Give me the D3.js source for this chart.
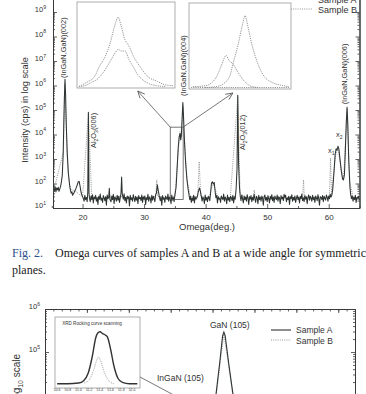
<!DOCTYPE html>
<html><head><meta charset="utf-8">
<script src="https://cdn.jsdelivr.net/npm/d3@7"></script>
<style>
html,body{margin:0;padding:0;background:#fff;}
svg{display:block;}
text{font-family:"Liberation Sans",Arial,sans-serif;fill:#333;}
</style></head><body>
<svg id="c" width="366" height="394"></svg>
<script>
// ================= DATA =================
// Top chart: omega (deg) vs intensity (cps), wide-angle symmetric scan
const sampleA = [
 [15.3,62],[15.425,50],[15.55,74],[15.675,45],[15.8,66],[15.925,55],[16.05,70],[16.175,48],[16.3,60],[16.425,75],
 [16.55,110],[16.7,210],[16.85,1500],[16.95,25000],[17.05,300000],[17.15,1800000],[17.25,400000],[17.35,30000],[17.5,2000],[17.7,260],
 [17.9,85],[18.025,55],[18.15,40],[18.275,46],[18.4,33],[18.525,38],[18.65,44],[18.775,52],[18.9,60],[19.1,82],
 [19.3,118],[19.45,122],[19.6,76],[19.75,45],[19.875,34],[20.0,30],[20.125,24],[20.25,19],[20.375,33],[20.5,22],
 [20.625,27],[20.75,18],[20.85,45],[20.95,80000],[21.05,40],
 [21.125,26],[21.25,18],[21.375,31],[21.5,22],[21.625,35],[21.75,16],[21.875,28],[22.0,24],[22.125,33],[22.25,19],
 [22.375,27],[22.5,14],[22.625,30],[22.75,23],[22.875,37],[23.0,21],[23.125,25],[23.25,17],[23.375,32],[23.5,26],
 [23.625,20],[23.75,29],[23.875,13],[24.0,34],[24.125,24],[24.25,27],[24.35,64],[24.45,22],
 [24.625,18],[24.75,31],[24.875,22],[25.0,36],[25.125,15],[25.25,28],[25.375,25],[25.5,19],[25.625,33],[25.75,21],
 [25.875,30],[26.0,17],[26.125,26],[26.25,40],[26.35,185],[26.45,38],
 [26.625,23],[26.75,38],[26.875,20],[27.0,27],[27.125,16],[27.25,31],[27.375,24],[27.5,29],[27.625,12],[27.75,33],
 [27.875,22],[28.0,26],[28.125,19],[28.25,35],[28.375,25],[28.5,18],[28.625,30],[28.75,21],[28.875,28],[29.0,15],
 [29.125,32],[29.25,24],[29.375,27],[29.5,20],[29.625,34],[29.75,17],[29.875,29],[30.0,23],[30.125,31],[30.25,14],
 [30.375,26],[30.5,22],[30.625,36],[30.75,19],[30.875,28],[31.0,25],[31.125,16],[31.25,33],[31.375,21],[31.5,30],
 [31.625,24],[31.75,18],[31.875,35],[32.0,40],[32.15,88],[32.3,52],
 [32.5,27],[32.625,20],[32.75,29],[32.875,13],[33.0,32],[33.125,23],[33.25,26],[33.375,17],[33.5,31],[33.625,25],
 [33.75,22],[33.875,37],[34.0,19],[34.125,28],[34.25,24],[34.375,15],[34.5,34],[34.625,21],[34.75,27],[34.875,18],
 [35.0,33],[35.2,70],[35.4,600],[35.55,3000],[35.7,8000],[35.85,11000],[35.95,6000],[36.05,9000],[36.2,60000],[36.3,200000],
 [36.4,60000],[36.55,6000],[36.75,700],[36.95,160],[37.15,60],
 [37.3,34],[37.425,22],[37.55,30],[37.675,17],[37.8,26],[37.925,20],[38.05,33],[38.175,16],[38.3,29],[38.425,23],
 [38.55,25],[38.675,31],[38.8,45],[39.0,66],[39.15,48],[39.3,30],
 [39.425,19],[39.55,28],[39.675,24],[39.8,15],[39.925,34],[40.05,21],[40.175,27],[40.3,18],[40.425,30],[40.55,26],
 [40.675,20],[40.8,40],[40.95,105],[41.1,118],[41.25,95],[41.4,110],[41.55,45],[41.675,26],
 [41.8,33],[41.925,16],[42.05,29],[42.175,23],[42.3,25],[42.425,17],[42.55,31],[42.675,25],[42.8,22],[42.925,37],
 [43.05,19],[43.175,28],[43.3,24],[43.425,15],[43.55,34],[43.675,21],[43.8,27],[43.925,18],[44.05,30],[44.175,26],
 [44.3,20],[44.425,33],[44.55,16],[44.675,29],[44.8,23],[44.95,60],[45.1,400],[45.22,400000],[45.35,700],[45.5,70],
 [45.625,30],
 [45.75,20],[45.875,34],[46.0,24],[46.125,16],[46.25,31],[46.375,22],[46.5,28],[46.625,19],[46.75,35],[46.875,25],
 [47.0,14],[47.125,29],[47.25,23],[47.375,32],[47.5,18],[47.625,27],[47.75,21],[47.875,36],[48.0,24],[48.125,17],
 [48.25,30],[48.375,26],[48.5,15],[48.625,33],[48.75,22],[48.875,28],[49.0,19],[49.125,31],[49.25,25],[49.375,13],
 [49.5,29],[49.625,34],[49.75,21],[49.875,27],[50.0,18],[50.125,32],[50.25,24],[50.375,16],[50.5,30],[50.625,23],
 [50.75,35],[50.875,20],[51.0,28],[51.125,17],[51.25,31],[51.375,25],[51.5,22],[51.625,34],[51.75,19],[51.875,29],
 [52.0,26],[52.125,15],[52.25,32],[52.375,24],[52.5,28],[52.625,20],[52.75,36],[52.875,27],[53.0,33],[53.125,18],
 [53.25,26],[53.375,22],[53.5,30],[53.625,14],[53.75,29],[53.875,24],[54.0,35],[54.125,19],[54.25,27],[54.375,21],
 [54.5,31],[54.625,17],[54.75,25],[54.875,33],[55.0,22],[55.125,28],[55.25,16],[55.375,30],[55.5,24],[55.625,37],
 [55.75,20],[55.875,26],[56.0,18],[56.125,32],[56.25,23],[56.375,29],[56.5,15],[56.625,27],[56.75,34],[56.875,21],
 [57.0,30],[57.125,25],[57.25,19],[57.375,33],[57.5,22],[57.625,28],[57.75,17],[57.875,31],[58.0,26],[58.125,20],
 [58.25,35],[58.375,24],[58.5,13],[58.625,29],[58.75,27],[58.875,22],[59.0,32],[59.125,18],[59.25,30],[59.375,25],
 [59.5,21],[59.625,34],[59.75,27],[59.875,19],[60.0,31],[60.125,24],[60.25,36],[60.375,28],[60.5,33],[60.65,58],
 [60.85,280],[61.05,1600],[61.2,2600],[61.35,2300],[61.5,3300],[61.65,2600],[61.85,900],[62.05,320],[62.25,150],[62.4,140],
 [62.55,230],[62.7,2200],[62.85,30000],[62.98,130000],[63.1,25000],[63.25,900],[63.45,70],[63.575,34],
 [63.7,24],[63.825,31],[63.95,19],[64.075,28],[64.2,22],[64.325,33],[64.45,17],[64.575,27],[64.7,25],[64.825,30],
 [64.95,21]
];
const sampleB = [
 [15.3,50],[16.9,2000],[17.1,1200000],[17.3,50000],[17.6,400],[18.0,60],[19.0,45],[20.0,28],[20.95,70000],[21.5,25],
 [22.5,22],[24.0,27],[26.0,30],[28.0,24],[30.0,26],[31.9,30],[32.05,140],[32.2,30],[33.5,25],[35.0,30],
 [35.5,1500],[35.8,13000],[36.1,8000],[36.3,150000],[36.6,4000],[37.0,120],[37.5,30],[38.7,28],[38.95,780],[39.2,30],
 [40.5,25],[41.2,100],[42.0,28],[44.0,25],[45.22,350000],[45.6,40],[46.5,25],[47.75,28],[47.9,55],[48.05,26],
 [50.0,25],[52.0,22],[54.0,27],[55.75,25],[55.9,140],[56.05,25],[58.0,26],[60.1,28],[60.3,1100],[60.45,35],
 [61.1,1400],[61.5,2800],[62.0,400],[62.4,150],[63.0,110000],[63.4,120],[64.0,25],[64.9,22]
];
const topExponents = [1,2,3,4,5,6,7,8,9];
const topXTicks = [20,30,40,50,60];
const topXMinor = [15,25,35,45,55,65];
// Insets of the (004) region (relative position 0-100, normalised intensity)
const inset1High = [[2,0],[10,0.05],[18,0.12],[23,0.24],[29,0.36],[34,0.52],[38,0.7],[42,0.82],[45,0.72],[49,0.55],[52,0.5],[58,0.35],[64,0.24],[72,0.12],[82,0.06],[90,0.02],[98,0.01]];
const inset1Low  = [[2,0],[8,0.01],[15,0.05],[20,0.08],[27,0.17],[34,0.3],[39,0.4],[42,0.44],[45,0.42],[49,0.42],[53,0.32],[57,0.24],[62,0.14],[67,0.08],[74,0.03],[81,0.01],[90,0]];
const inset2Left  = [[3.9,0.01],[15.7,0.02],[23.5,0.07],[27.5,0.14],[30.4,0.22],[33.3,0.31],[36.3,0.38],[39.2,0.32],[43.1,0.28],[48,0.18],[53.9,0.08],[59.8,0.02],[67.6,0]];
const inset2Right = [[15.7,0],[26.5,0.01],[34.3,0.05],[40.2,0.14],[43.1,0.28],[48,0.5],[52,0.72],[54.9,0.85],[57.8,0.72],[60.8,0.55],[64.7,0.38],[69.6,0.22],[74.5,0.12],[81.4,0.06],[89.2,0.03],[98,0.01]];
const inset2Base  = [[2,0],[98,0]];
// Peak annotations (omega, cps anchor)
const peakLabels = [
 {parts:[{t:"(InGaN,GaN)(002)"}], w:17.3, c:2.0e6},
 {parts:[{t:"Al"},{t:"2",sub:1},{t:"O"},{t:"3",sub:1},{t:"(006)"}], w:22.15, c:2800},
 {parts:[{t:"(InGaN,GaN)(004)"}], w:36.8, c:3.7e5},
 {parts:[{t:"Al"},{t:"2",sub:1},{t:"O"},{t:"3",sub:1},{t:"(012)"}], w:46.4, c:2350},
 {parts:[{t:"(InGaN,GaN)(006)"}], w:63.0, c:1.7e5}
];
const xLabels = [
 {parts:[{t:"x"},{t:"1",sub:1}], w:59.9, c:1750},
 {parts:[{t:"x"},{t:"2",sub:1}], w:61.2, c:7900}
];

// Bottom chart: (105) rocking curves
const bottomA = [[33.95,3000],[34.08,10000],[34.17,55000],[34.24,240000],[34.27,290000],[34.30,240000],[34.39,50000],[34.49,10000],[34.62,3000]];
const bottomB = [[34.0,4000],[34.1,12000],[34.2,80000],[34.27,260000],[34.36,70000],[34.47,12000],[34.6,3500]];
const bottomExponents = [5,6];
const rockA = [[50.6,0.02],[50.8,0.02],[51.0,0.03],[51.1,0.07],[51.18,0.18],[51.26,0.45],[51.32,0.72],[51.36,0.8],[51.4,0.82],[51.45,0.79],[51.5,0.77],[51.54,0.74],[51.6,0.55],[51.66,0.3],[51.74,0.1],[51.82,0.04],[51.95,0.02],[52.1,0.02]];
const rockB = [[51.1,0.03],[51.2,0.08],[51.28,0.22],[51.34,0.38],[51.37,0.43],[51.41,0.38],[51.48,0.2],[51.56,0.07],[51.66,0.02]];
const rockTicks = [50.6,50.8,51.0,51.2,51.4,51.6,51.8,52.0];

// ================= DRAW =================
(function(){
const svg = d3.select("#c");
const AX = "#3a3a3a", LINE_A = "#2e3431", LINE_B = "#8a8a8a";
const SERIF = "'Liberation Serif','Times New Roman',serif";

function rich(text, parts, fs){
  let shift = 0;
  parts.forEach(p=>{
    const s = p.sub ? fs*0.3 : p.sup ? -fs*0.45 : 0;
    text.append("tspan").attr("dy", s-shift)
      .attr("font-size", (p.sub||p.sup) ? fs*0.68 : fs).text(p.t);
    shift = s;
  });
}
function minorLog(exps){
  const out=[]; exps.forEach(e=>{for(let k=2;k<=9;k++) out.push(k*Math.pow(10,e));}); return out;
}

// ---------- top chart ----------
const x = d3.scaleLinear().domain([15.2,65]).range([53,359.5]);
const y = d3.scaleLog().domain([10,1e10]).range([208,-12.5]);
const gTop = svg.append("g");

gTop.append("g").attr("transform","translate(53,0)")
  .call(d3.axisLeft(y).tickValues(topExponents.map(e=>Math.pow(10,e))).tickSize(-4).tickSizeOuter(0).tickFormat(""));
gTop.append("g").attr("transform","translate(53,0)")
  .call(d3.axisLeft(y).tickValues(minorLog(topExponents.slice(0,-1))).tickSize(-2).tickSizeOuter(0).tickFormat(""));
gTop.append("g").attr("transform","translate(359.5,0)")
  .call(d3.axisRight(y).tickValues(topExponents.map(e=>Math.pow(10,e))).tickSize(-4).tickSizeOuter(0).tickFormat(""));
gTop.append("g").attr("transform","translate(359.5,0)")
  .call(d3.axisRight(y).tickValues(minorLog(topExponents.slice(0,-1))).tickSize(-2).tickSizeOuter(0).tickFormat(""));
const gB = gTop.append("g").attr("transform","translate(0,208)");
gB.call(d3.axisBottom(x).tickValues(topXTicks).tickSize(-4).tickSizeOuter(0).tickPadding(6).tickFormat(d3.format("d")));
gTop.append("g").attr("transform","translate(0,208)")
  .call(d3.axisBottom(x).tickValues(topXMinor).tickSize(-2).tickSizeOuter(0).tickFormat(""));
gTop.selectAll(".domain").attr("stroke",AX).attr("stroke-width",1);
gTop.selectAll(".tick line").attr("stroke",AX).attr("stroke-width",0.8);
gB.selectAll("text").attr("font-size",8).attr("fill","#444");

topExponents.forEach(e=>{
  const t = gTop.append("text").attr("x",46).attr("y",y(Math.pow(10,e))).attr("dy","0.38em")
    .attr("text-anchor","end").attr("fill","#444");
  rich(t,[{t:"10"},{t:String(e),sup:1}],7.5);
});
gTop.append("text").attr("transform","translate(25,110) rotate(-90)").attr("text-anchor","middle")
  .attr("dy","0.35em").attr("font-size",9.2).attr("fill","#444").text("Intensity (cps) in log scale");
gTop.append("text").attr("x",207).attr("y",230).attr("text-anchor","middle")
  .attr("font-size",9.5).attr("fill","#444").text("Omega(deg.)");

const line = d3.line().x(d=>x(d[0])).y(d=>y(d[1]));
gTop.append("path").datum(sampleB).attr("d",line).attr("fill","none")
  .attr("stroke",LINE_B).attr("stroke-width",0.9).attr("stroke-dasharray","1,1.2");
gTop.append("path").datum(sampleA).attr("d",line).attr("fill","none")
  .attr("stroke",LINE_A).attr("stroke-width",1.05).attr("stroke-linejoin","round");

peakLabels.forEach(p=>{
  const t = gTop.append("text").attr("transform",`translate(${x(p.w)},${y(p.c)}) rotate(-90)`)
    .attr("dy","0.35em").attr("fill","#3a3a3a");
  rich(t,p.parts,7.4);
});
xLabels.forEach(p=>{
  const t = gTop.append("text").attr("x",x(p.w)).attr("y",y(p.c)).attr("fill","#3a3a3a");
  rich(t,p.parts,7.5);
});

const bx0=x(34.25), bx1=x(36.35), by0=y(Math.pow(10,4.3)), by1=y(Math.pow(10,1.35));
gTop.append("rect").attr("x",bx0).attr("y",by0).attr("width",bx1-bx0).attr("height",by1-by0)
  .attr("fill","none").attr("stroke","#555").attr("stroke-width",0.8);

svg.append("defs").append("marker").attr("id","arr").attr("viewBox","-8 -4 9 8")
  .attr("refX",0).attr("refY",0).attr("markerWidth",9).attr("markerHeight",8)
  .attr("markerUnits","userSpaceOnUse").attr("orient","auto")
  .append("path").attr("d","M-7,-3.2L0,0L-7,3.2").attr("fill","none").attr("stroke","#555").attr("stroke-width",0.8);

function inset(x0,x1,y0,y1,curves){
  const ix = d3.scaleLinear().domain([0,100]).range([x0,x1]);
  const iy = d3.scaleLinear().domain([0,1]).range([y1-1.5,y0]);
  gTop.append("rect").attr("x",x0).attr("y",y0).attr("width",x1-x0).attr("height",y1-y0)
    .attr("fill","#fff").attr("stroke","#9a9a9a").attr("stroke-width",0.8);
  const l = d3.line().curve(d3.curveMonotoneX).x(d=>ix(d[0])).y(d=>iy(d[1]));
  curves.forEach(c=>{
    gTop.append("path").datum(c).attr("d",l).attr("fill","none").attr("stroke","#8a8a8a")
      .attr("stroke-width",0.9).attr("stroke-dasharray","1.2,1");
  });
  return ix;
}
const ix1 = inset(77,175,2,88,[inset1High,inset1Low]);
const ix2 = inset(189,291,3,89,[inset2Left,inset2Right,inset2Base]);
gTop.append("line").attr("x1",bx0).attr("y1",by0).attr("x2",ix1(62)).attr("y2",91)
  .attr("stroke","#555").attr("stroke-width",0.8).attr("marker-end","url(#arr)");
gTop.append("line").attr("x1",bx1).attr("y1",by0).attr("x2",ix2(43)).attr("y2",93)
  .attr("stroke","#555").attr("stroke-width",0.8).attr("marker-end","url(#arr)");

gTop.append("line").attr("x1",291).attr("x2",313).attr("y1",-2).attr("y2",-2).attr("stroke",LINE_A);
gTop.append("text").attr("x",318).attr("y",3).attr("font-size",9).attr("fill","#444").text("Sample A");
gTop.append("line").attr("x1",291).attr("x2",313).attr("y1",9).attr("y2",9)
  .attr("stroke",LINE_B).attr("stroke-width",0.9).attr("stroke-dasharray","1,1.2");
gTop.append("text").attr("x",318).attr("y",12.5).attr("font-size",9).attr("fill","#444").text("Sample B");

// ---------- caption ----------
svg.append("text").attr("x",12).attr("y",257).style("font-family",SERIF)
  .attr("font-size",12).style("fill","#2d4f8e").text("Fig. 2.");
svg.append("text").attr("x",55).attr("y",257).style("font-family",SERIF)
  .attr("font-size",12).style("fill","#222").attr("textLength",311).attr("lengthAdjust","spacing")
  .text("Omega curves of samples A and B at a wide angle for symmetric");
svg.append("text").attr("x",12).attr("y",274).style("font-family",SERIF)
  .attr("font-size",12).style("fill","#222").text("planes.");

// ---------- bottom chart ----------
const xb = d3.scaleLinear().domain([30,37.4]).range([45,355]);
const yb = d3.scaleLog().domain([1e3,1e6]).range([438,309]);
const bot = svg.append("g");
bot.append("g").attr("transform","translate(0,309)")
  .call(d3.axisTop(xb).ticks(37).tickSize(-2.5).tickSizeOuter(0).tickFormat(""));
bot.append("g").attr("transform","translate(0,309)")
  .call(d3.axisTop(xb).tickValues(d3.range(30,38,1)).tickSize(-4).tickSizeOuter(0).tickFormat(""));
bot.append("g").attr("transform","translate(45,0)")
  .call(d3.axisLeft(yb).tickValues([1e4,1e5,1e6]).tickSize(-4).tickSizeOuter(0).tickFormat(""));
bot.append("g").attr("transform","translate(45,0)")
  .call(d3.axisLeft(yb).tickValues(minorLog([3,4,5])).tickSize(-2).tickSizeOuter(0).tickFormat(""));
bot.append("g").attr("transform","translate(355,0)")
  .call(d3.axisRight(yb).tickValues([1e4,1e5,1e6]).tickSize(-4).tickSizeOuter(0).tickFormat(""));
bot.append("g").attr("transform","translate(355,0)")
  .call(d3.axisRight(yb).tickValues(minorLog([3,4,5])).tickSize(-2).tickSizeOuter(0).tickFormat(""));
bot.selectAll(".domain").attr("stroke",AX).attr("stroke-width",1);
bot.selectAll(".tick line").attr("stroke",AX).attr("stroke-width",0.8);
bottomExponents.forEach(e=>{
  const t = bot.append("text").attr("x",40).attr("y",yb(Math.pow(10,e))).attr("dy","0.38em")
    .attr("text-anchor","end").attr("fill","#444");
  rich(t,[{t:"10"},{t:String(e),sup:1}],7.5);
});
const yl = bot.append("text").attr("transform","translate(20,354) rotate(-90)").attr("text-anchor","end")
  .attr("dy","0.35em").attr("fill","#444");
rich(yl,[{t:"Intensity (cps) in Log"},{t:"10",sub:1},{t:" scale"}],10);

const lb = d3.line().x(d=>xb(d[0])).y(d=>yb(d[1]));
bot.append("path").datum(bottomB).attr("d",lb).attr("fill","none").attr("stroke",LINE_B)
  .attr("stroke-width",0.9).attr("stroke-dasharray","1,1.2");
bot.append("path").datum(bottomA).attr("d",lb).attr("fill","none").attr("stroke",LINE_A).attr("stroke-width",1.1);
bot.append("text").attr("x",210).attr("y",328).attr("font-size",8.5).attr("fill","#444").text("GaN (105)");
bot.append("text").attr("x",157).attr("y",381).attr("font-size",8.5).attr("fill","#444").text("InGaN (105)");

bot.append("line").attr("x1",271).attr("x2",291).attr("y1",330).attr("y2",330).attr("stroke",LINE_A).attr("stroke-width",1.1);
bot.append("text").attr("x",296).attr("y",333).attr("font-size",8.5).attr("fill","#444").text("Sample A");
bot.append("line").attr("x1",271).attr("x2",291).attr("y1",340).attr("y2",340)
  .attr("stroke",LINE_B).attr("stroke-width",0.9).attr("stroke-dasharray","1,1.2");
bot.append("text").attr("x",296).attr("y",344).attr("font-size",8.5).attr("fill","#444").text("Sample B");

const rx = d3.scaleLinear().domain([50.56,52.15]).range([55,140]);
const ry = d3.scaleLinear().domain([0,1]).range([385,320]);
bot.append("rect").attr("x",55).attr("y",317).attr("width",85).attr("height",71)
  .attr("fill","#fff").attr("stroke","#9a9a9a").attr("stroke-width",0.8);
bot.append("text").attr("x",92).attr("y",325).attr("text-anchor","middle").attr("font-size",4.6)
  .attr("fill","#555").text("XRD Rocking curve scanning");
rockTicks.forEach(v=>{
  bot.append("text").attr("x",rx(v)).attr("y",391).attr("text-anchor","middle").attr("font-size",3.4)
    .attr("fill","#777").text(v.toFixed(1));
});
const lr = d3.line().curve(d3.curveMonotoneX).x(d=>rx(d[0])).y(d=>ry(d[1]));
bot.append("path").datum(rockB).attr("d",lr).attr("fill","none").attr("stroke","#999")
  .attr("stroke-width",0.9).attr("stroke-dasharray","1,1");
bot.append("path").datum(rockA).attr("d",lr).attr("fill","none").attr("stroke","#333").attr("stroke-width",1.4);
bot.append("line").attr("x1",140).attr("y1",377).attr("x2",185).attr("y2",401)
  .attr("stroke","#555").attr("stroke-width",0.8);
})();
</script></body></html>
